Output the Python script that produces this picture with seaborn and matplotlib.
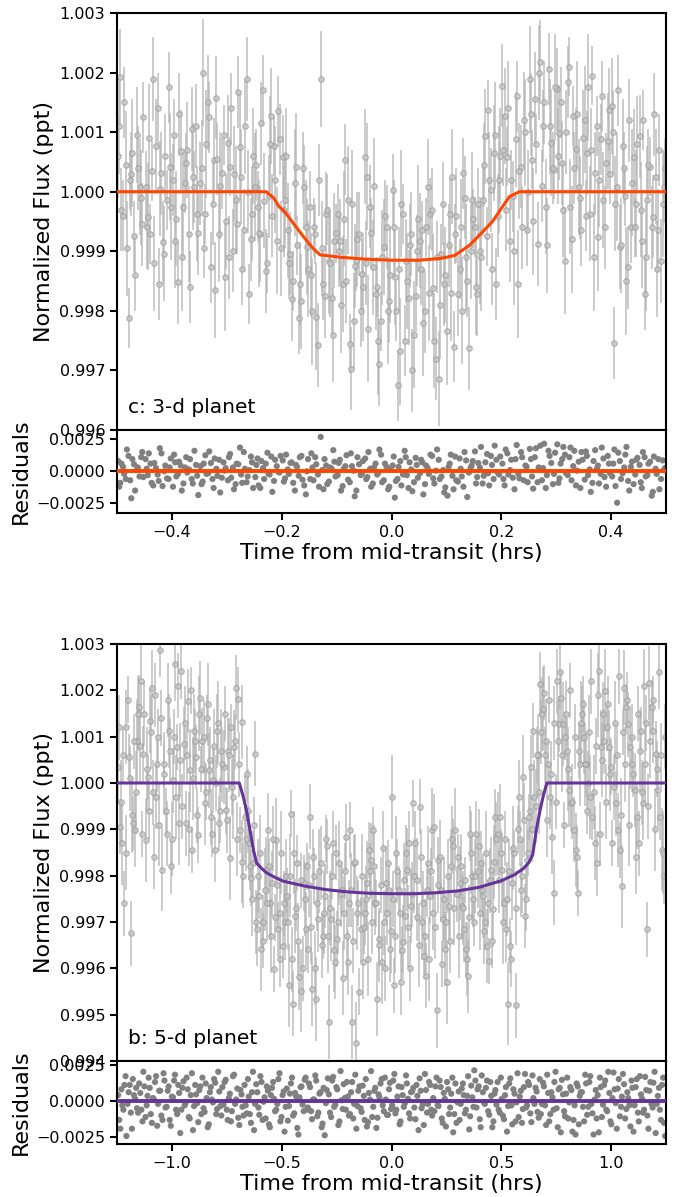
"""
Transit light curves (3-d and 5-d planets) with residual panels
"""

import matplotlib
matplotlib.use("Agg")
import matplotlib.pyplot as plt
from matplotlib.ticker import ScalarFormatter, MultipleLocator
import seaborn as sns
import numpy as np

# ---- panel c: 3-d planet -------------------------------------------------
# times in 1e-3 hrs, flux offsets / residuals in 1e-5, errors in 1e-4
time_c = [
    -498, -494, -489, -484, -479, -474, -469, -464, -459, -454,
    -448, -444, -439, -434, -429, -424, -419, -414, -409, -404,
    -398, -394, -389, -384, -379, -374, -369, -364, -359, -354,
    -348, -344, -339, -334, -329, -324, -319, -314, -309, -304,
    -298, -294, -289, -284, -279, -274, -269, -264, -259, -254,
    -248, -244, -239, -234, -229, -224, -219, -214, -209, -204,
    -198, -194, -189, -184, -179, -174, -169, -164, -159, -154,
    -148, -144, -139, -134, -129, -124, -119, -114, -109, -104,
    -98, -94, -89, -84, -79, -74, -69, -64, -59, -54,
    -48, -44, -39, -34, -29, -24, -19, -14, -9, -4,
    2, 6, 11, 16, 21, 26, 31, 36, 41, 46,
    52, 56, 61, 66, 71, 76, 81, 86, 91, 96,
    102, 106, 111, 116, 121, 126, 131, 136, 141, 146,
    152, 156, 161, 166, 171, 176, 181, 186, 191, 196,
    202, 206, 211, 216, 221, 226, 231, 236, 241, 246,
    252, 256, 261, 266, 271, 276, 281, 286, 291, 296,
    302, 306, 311, 316, 321, 326, 331, 336, 341, 346,
    352, 356, 361, 366, 371, 376, 381, 386, 391, 396,
    402, 406, 411, 416, 421, 426, 431, 436, 441, 446,
    452, 456, 461, 466, 471, 476, 481, 486, 491, 496,
]
flux_c = [
    60, 193, -40, 45, -212, 30, -75, 95, 8, -55,
    8, -42, -71, 189, 76, -155, 31, -104, -14, 42,
    20, -82, -152, 68, -25, 48, -71, 105, 8, -37,
    14, 200, -37, 150, -127, 54, 158, -71, 31, -144,
    82, 42, -99, -14, 167, 25, -65, 189, -172, -37,
    8, -25, -71, 170, -133, -8, 127, 76, -82, 88,
    59, -14, -65, -104, -150, 42, -212, -184, 8, -93,
    -25, -201, -71, -257, 189, -155, -37, -116, -178, -82,
    -37, -82, -155, 54, -14, -297, -217, -116, -71, -138,
    59, 25, -25, -127, -172, -251, -217, -93, -59, -184,
    3, -144, -325, -268, -37, -116, -178, -71, -240, -99,
    -82, -65, -201, 8, -37, -161, -280, -314, -104, -155,
    -234, -37, 25, -71, -172, -59, 31, -110, -263, -14,
    -59, -172, -99, -14, 93, 138, 3, 65, -155, 20,
    178, 127, 59, -82, -8, 88, -155, 42, 121, -65,
    189, 54, 155, -88, 218, 110, -25, 206, 82, 37,
    172, 99, 48, -116, 184, -25, 127, 71, 8, -65,
    121, 65, -37, 195, 31, -76, 88, -14, 48, 138,
    144, -254, 8, -93, 76, -8, -127, -59, 59, -20,
    93, -82, -172, -14, 42, -42, 25, -65, -116, 8,
]
resid_c = [
    80, -90, 35, -60, 120, -210, 55, 10, -40, 150,
    95, -30, 60, -110, 25, -75, 140, 0, -55, 30,
    -120, 70, -20, 45, -95, 110, 15, -60, 160, -35,
    40, -80, 125, -15, 65, -130, 20, 90, -50, 5,
    -70, 135, 30, -100, 55, -25, 150, -85, 10, 70,
    -45, 100, -130, 25, 60, -20, 115, -75, 40, -10,
    85, -55, 15, 65, -90, 50, -35, 120, -110, 0,
    -60, 30, 110, -25, 268, -140, 45, -80, 20, 75,
    -30, 90, -115, 40, -65, 140, 5, -150, 55, -20,
    100, -45, 20, -95, 60, -10, 130, -70, 35, -120,
    45, -205, -60, 80, -25, 110, -130, 15, -85, 50,
    -15, 70, -100, 25, 130, -55, 5, 90, -40, -165,
    -190, 60, -35, 115, -80, 20, -120, 85, -10, 45,
    155, -45, 30, -95, 70, -15, 120, -60, 90, -25,
    60, -110, 140, 10, -50, 95, -20, 150, -70, 35,
    175, -40, 110, -85, 200, 25, -130, 160, 65, -20,
    210, -55, 95, 130, -30, 185, 40, -110, 75, 150,
    -65, 120, 15, -90, 165, 45, -20, 100, -120, 60,
    -40, 170, -245, 80, -15, 130, -75, 35, -100, 90,
    50, -130, 110, -30, 75, -160, 20, 95, -60, 10,
]
err_c = "".join([
    "7869576887", "6957867859", "6877958768", "7958677869", "8579687758",
    "9686778596", "7887596878", "6957867968", "5786978576", "8978695877",
    "6869578796", "8578697857", "9685786978", "5796857869", "7857689786",
    "9587768695", "7879685786", "9785796857", "8697857689", "7869578776",
])
# second (interleaved) set of exposures for panel c
time_c2 = [
    -496, -492, -487, -482, -476, -472, -467, -462, -456, -452,
    -446, -442, -437, -432, -426, -422, -417, -412, -406, -402,
    -396, -392, -387, -382, -376, -372, -367, -362, -356, -352,
    -346, -342, -337, -332, -326, -322, -317, -312, -306, -302,
    -296, -292, -287, -282, -276, -272, -267, -262, -256, -252,
    -246, -242, -237, -232, -226, -222, -217, -212, -206, -202,
    -196, -192, -187, -182, -176, -172, -167, -162, -156, -152,
    -146, -142, -137, -132, -126, -122, -117, -112, -106, -102,
    -96, -92, -87, -82, -76, -72, -67, -62, -56, -52,
    -46, -42, -37, -32, -26, -22, -17, -12, -6, -2,
    4, 8, 13, 18, 24, 28, 33, 38, 44, 48,
    54, 58, 63, 68, 74, 78, 83, 88, 94, 98,
    104, 108, 113, 118, 124, 128, 133, 138, 144, 148,
    154, 158, 163, 168, 174, 178, 183, 188, 194, 198,
    204, 208, 213, 218, 224, 228, 233, 238, 244, 248,
    254, 258, 263, 268, 274, 278, 283, 288, 294, 298,
    304, 308, 313, 318, 324, 328, 333, 338, 344, 348,
    354, 358, 363, 368, 374, 378, 383, 388, 394, 398,
    404, 408, 413, 418, 424, 428, 433, 438, 444, 448,
    454, 458, 463, 468, 474, 478, 483, 488, 494, 498,
]
flux_c2 = [
    110, -30, 150, -95, 20, 65, -140, 40, -10, 125,
    -60, 90, 35, -120, 140, 5, -85, 60, 175, -25,
    95, -45, 130, -110, 15, 70, -160, 25, 110, -70,
    40, -95, 80, 125, -20, -165, 55, 10, 95, -50,
    -110, 140, 30, -55, 75, -130, 110, 0, -80, 60,
    45, -70, 115, -15, -120, 80, -40, 20, 135, -95,
    -30, 60, -120, -180, 15, -90, -155, 40, -60, -130,
    -140, -60, -210, 20, -95, -175, -30, -120, -240, -70,
    -100, -190, -45, -150, -255, -20, -125, -80, -200, -160,
    -120, -230, -70, 10, -160, -290, -110, -40, -200, -140,
    -60, -200, -130, -20, -250, -150, -90, -300, -175, -45,
    -130, -220, -60, -170, -30, -250, -110, -190, -20, -140,
    -90, -170, -260, -40, -130, -200, -10, -150, -100, -45,
    -160, -20, -110, 45, -75, 20, -130, 95, -40, 60,
    70, -30, 140, 20, -100, 160, 35, -60, 100, 0,
    130, -50, 80, 200, 10, 150, -90, 110, 40, 175,
    60, 150, -30, 100, 210, -80, 40, 130, -10, 90,
    -40, 175, 70, -110, 110, 20, 160, -60, 85, 30,
    100, -20, 170, -90, 40, -150, 120, 15, -60, 80,
    -30, 120, -110, 45, -60, 130, -130, 70, -20, 40,
]
resid_c2 = [
    -120, 60, -20, 170, -70, 95, -150, 30, 110, -45,
    20, 140, -90, 65, -25, 180, -115, 45, -60, 100,
    130, -40, 75, -150, 30, -10, 95, -95, 50, -185,
    -100, 60, -20, 155, -60, 100, -35, -165, 70, 25,
    110, -50, -140, 60, 185, -90, 20, -40, 115, -130,
    50, -110, 80, -60, 145, -25, -160, 90, -5, 120,
    -80, 130, -20, 70, -150, 35, 110, -65, -180, 95,
    140, -70, 55, -120, 10, 95, -100, 30, 165, -40,
    65, -150, 20, 125, -85, 40, -195, 110, -30, 80,
    -60, 150, -120, 30, -25, 170, -85, 60, -140, 15,
    115, -75, 35, -110, 160, -30, 70, -155, 105, -50,
    90, -180, 45, -20, 120, -95, 170, -60, 10, -125,
    35, 130, -140, -70, 100, -40, 150, -200, 25, 80,
    -95, 65, 190, -35, 135, -110, 50, 200, -15, 115,
    -60, 170, -25, 90, -140, 205, -55, 110, 45, -85,
    95, -135, 180, 30, -70, 215, -30, 120, -100, 145,
    -90, 60, 190, -15, 110, -70, 160, 5, -130, 90,
    155, -30, -160, 80, 20, -95, 185, -45, 120, -15,
    60, -115, 145, -60, 30, 190, -150, 75, -25, 105,
    -85, 150, -40, 60, -190, 115, -20, -140, 85, 25,
]
err_c2 = "".join([
    "8768596786", "7958687769", "6879586977", "8596786958", "7685968778",
    "6978587968", "8867957688", "7596876985", "6887597869", "7968578698",
    "8579687769", "6958786978", "7868597685", "8697586978", "6785968797",
    "7958678869", "8687596978", "6979586785", "7868697958", "8596778695",
])
model_t_c = [-0.5, -0.228, -0.214, -0.205, -0.196, -0.178, -0.16, -0.142, -0.13,
             -0.093, -0.05, 0.0, 0.05, 0.09, 0.115, 0.142, 0.16, 0.184, 0.2,
             0.215, 0.233, 0.5]
model_f_c = [1.0, 1.0, 0.99989, 0.99975, 0.99968, 0.99946, 0.99924, 0.99904, 0.99894,
             0.9989, 0.99887, 0.99885, 0.99885, 0.99888, 0.99893, 0.9991, 0.99927,
             0.9995, 0.99972, 0.99992, 1.0, 1.0]

# ---- panel b: 5-d planet -------------------------------------------------
time_b = [
    -1245, -1235, -1226, -1216, -1207, -1197, -1187, -1178, -1168, -1159,
    -1149, -1139, -1130, -1120, -1111, -1101, -1091, -1082, -1072, -1063,
    -1053, -1043, -1034, -1024, -1015, -1005, -995, -986, -976, -967,
    -957, -947, -938, -928, -919, -909, -899, -890, -880, -871,
    -861, -851, -842, -832, -823, -813, -803, -794, -784, -775,
    -765, -755, -746, -736, -727, -717, -707, -698, -688, -679,
    -669, -659, -650, -640, -631, -621, -611, -602, -592, -583,
    -573, -563, -554, -544, -535, -525, -515, -506, -496, -487,
    -477, -467, -458, -448, -439, -429, -419, -410, -400, -391,
    -381, -371, -362, -352, -343, -333, -323, -314, -304, -295,
    -285, -275, -266, -256, -247, -237, -227, -218, -208, -199,
    -189, -179, -170, -160, -151, -141, -131, -122, -112, -103,
    -93, -83, -74, -64, -55, -45, -35, -26, -16, -7,
    3, 13, 22, 32, 41, 51, 61, 70, 80, 89,
    99, 109, 118, 128, 137, 147, 157, 166, 176, 185,
    195, 205, 214, 224, 233, 243, 253, 262, 272, 281,
    291, 301, 310, 320, 329, 339, 349, 358, 368, 377,
    387, 397, 406, 416, 425, 435, 445, 454, 464, 473,
    483, 493, 502, 512, 521, 531, 541, 550, 560, 569,
    579, 589, 598, 608, 617, 627, 637, 646, 656, 665,
    675, 685, 694, 704, 713, 723, 733, 742, 752, 761,
    771, 781, 790, 800, 809, 819, 829, 838, 848, 857,
    867, 877, 886, 896, 905, 915, 925, 934, 944, 953,
    963, 973, 982, 992, 1001, 1011, 1021, 1030, 1040, 1049,
    1059, 1069, 1078, 1088, 1097, 1107, 1117, 1126, 1136, 1145,
    1155, 1165, 1174, 1184, 1193, 1203, 1213, 1222, 1232, 1241,
]
flux_b = [
    34, -94, -130, -260, 121, 56, -324, -87, -101, 91,
    163, 220, 63, -123, 13, 134, 206, -159, -30, 99,
    288, -187, 41, -109, 113, -180, 6, 256, 77, -87,
    241, 84, -87, 177, 27, -144, 113, 56, -112, 184,
    91, -44, 141, 27, -73, 6, -144, 113, -87, 70,
    34, -59, 70, -162, -9, 77, 206, 181, -101, 131,
    -73, 20, -130, -205, -173, 63, -316, -244, -359, -301,
    -187, -101, -259, -216, -401, -123, -316, -280, -351, -301,
    -244, -437, -66, -476, -287, -173, -419, -448, -216, -316,
    -359, -73, -444, -201, -466, -294, -173, -330, -244, -137,
    -516, -294, -130, -387, -337, -173, -230, -280, -116, -387,
    -101, -516, -173, -562, -259, -316, -387, -280, -216, -144,
    -166, -101, -259, -466, -337, -387, -301, -216, -173, -359,
    -30, -437, -151, -230, -430, -344, -287, -187, -130, -266,
    -44, -130, -209, -51, -301, -373, -416, -173, -244, -101,
    -94, -491, -166, -230, -294, -359, -430, -266, -180, -137,
    -101, -159, -216, -266, -316, -359, -416, -109, -201, -301,
    -109, -137, -173, -244, -301, -351, -384, -187, -273, -73,
    -109, -73, -187, -259, -316, -476, -351, -216, -151, -480,
    -30, -230, 13, -287, -166, -73, 34, 113, -50, 60,
    213, 149, 195, 91, 41, -30, -116, -237, 220, 127,
    184, 127, 99, 70, -16, -44, -101, -144, -237, 41,
    149, 99, 41, -1, -30, -73, -130, -173, 241, 77,
    149, 199, 120, 77, 34, -9, -44, -101, -144, -223,
    206, 163, 127, 77, 41, -16, -73, -130, 113, -44,
    41, -316, 216, 163, 113, 63, -16, -73, -144, -201,
]
resid_b = [
    40, -190, -30, 110, -240, 60, -80, 150, 15, -50,
    120, -60, 200, -110, 35, 90, -150, 10, 170, -20,
    70, -130, 140, -40, 100, -170, 25, 180, -90, 55,
    -60, 135, -15, 80, -120, 190, -35, 45, -145, 100,
    160, -75, 20, -160, 95, -10, 125, -55, 65, -100,
    -25, 145, -130, 50, -70, 180, 10, -115, 75, -40,
    110, -85, 30, -150, 200, -20, 60, -95, 130, -5,
    -120, 70, -180, 90, 15, -60, 150, -140, 40, -210,
    85, -35, 120, -100, 55, -185, 25, 100, -70, 160,
    -45, 95, -125, 10, 140, -80, 60, -155, -235, 75,
    45, -110, 165, -25, 80, -140, 5, 115, -60, 30,
    -90, 130, -20, -190, 70, -50, 105, -130, -175, 55,
    205, -40, 90, -115, 25, 150, -70, 10, -95, 125,
    -30, 185, -60, 100, -140, 40, -15, 120, -85, 60,
    90, -125, 35, 155, -50, -165, 75, -20, 110, -100,
    -70, 160, -35, 95, -150, 15, 130, -90, 50, -215,
    120, -10, -130, 85, 40, -60, 170, -105, 25, 210,
    -45, 100, -180, 60, -20, 140, -95, 35, -140, 75,
    130, -80, 15, -125, 95, -35, 155, -160, 50, -10,
    -110, 70, -55, 185, -30, 110, -145, 20, 90, -75,
    150, -20, 100, -165, 55, -90, 25, 130, -50, 80,
    -215, 45, -105, 160, -10, 75, -130, -230, 100, 35,
    60, -140, 120, -40, 170, -85, 10, -120, -215, 95,
    -25, 140, -70, 55, -160, 195, -15, 85, -105, 30,
    115, -55, 20, -175, 90, -30, 150, -140, 45, -80,
    165, -100, 70, -20, 125, -220, 35, -60, 110, -150,
]
err_b = "".join([
    "8697857689", "7869578776", "6957867859", "6877958768", "7958677869",
    "8579687758", "9686778596", "7887596878", "6957867968", "5786978576",
    "8978695877", "6869578796", "8578697857", "9685786978", "5796857869",
    "7857689786", "9587768695", "7879685786", "9785796857", "8697857689",
    "7869578776", "6957867859", "6877958768", "7958677869", "8579687758",
    "9686778596",
])
# second (interleaved) set of exposures for panel b
time_b2 = [
    -1240, -1230, -1221, -1211, -1202, -1192, -1182, -1173, -1163, -1154,
    -1144, -1134, -1125, -1115, -1106, -1096, -1086, -1077, -1067, -1058,
    -1048, -1038, -1029, -1019, -1010, -1000, -990, -981, -971, -962,
    -952, -942, -933, -923, -914, -904, -894, -885, -875, -866,
    -856, -846, -837, -827, -818, -808, -798, -789, -779, -770,
    -760, -750, -741, -731, -722, -712, -702, -693, -683, -674,
    -664, -654, -645, -635, -626, -616, -606, -597, -587, -578,
    -568, -558, -549, -539, -530, -520, -510, -501, -491, -482,
    -472, -462, -453, -443, -434, -424, -414, -405, -395, -386,
    -376, -366, -357, -347, -338, -328, -318, -309, -299, -290,
    -280, -270, -261, -251, -242, -232, -222, -213, -203, -194,
    -184, -174, -165, -155, -146, -136, -126, -117, -107, -98,
    -88, -78, -69, -59, -50, -40, -30, -21, -11, -2,
    8, 18, 27, 37, 46, 56, 66, 75, 85, 94,
    104, 114, 123, 133, 142, 152, 162, 171, 181, 190,
    200, 210, 219, 229, 238, 248, 258, 267, 277, 286,
    296, 306, 315, 325, 334, 344, 354, 363, 373, 382,
    392, 402, 411, 421, 430, 440, 450, 459, 469, 478,
    488, 498, 507, 517, 526, 536, 546, 555, 565, 574,
    584, 594, 603, 613, 622, 632, 642, 651, 661, 670,
    680, 690, 699, 709, 718, 728, 738, 747, 757, 766,
    776, 786, 795, 805, 814, 824, 834, 843, 853, 862,
    872, 882, 891, 901, 910, 920, 930, 939, 949, 958,
    968, 978, 987, 997, 1006, 1016, 1026, 1035, 1045, 1054,
    1064, 1074, 1083, 1093, 1102, 1112, 1122, 1131, 1141, 1150,
    1160, 1170, 1179, 1189, 1198, 1208, 1218, 1227, 1237, 1246,
]
flux_b2 = [
    120, -40, 60, -150, 180, 10, -70, 90, -20, 150,
    80, -110, 150, 30, -60, 110, -20, 190, 40, -90,
    140, 20, -60, 180, 70, -120, 100, -30, 210, 50,
    -50, 130, 60, -100, 200, 10, 90, -70, 150, 30,
    100, -20, 170, 50, -110, 80, 0, 130, -60, 40,
    150, -80, 60, 120, -30, 90, -120, 40, -170, -200,
    -120, -60, -180, -250, -90, -300, -200, -150, -340, -230,
    -260, -180, -330, -120, -290, -220, -380, -150, -260, -200,
    -300, -200, -380, -150, -270, -340, -210, -400, -250, -180,
    -220, -310, -160, -400, -260, -190, -350, -280, -120, -330,
    -270, -200, -360, -150, -300, -240, -420, -190, -330, -260,
    -230, -340, -170, -280, -450, -200, -310, -250, -380, -190,
    -300, -180, -260, -350, -220, -140, -400, -280, -230, -320,
    -250, -330, -190, -280, -360, -210, -150, -310, -400, -240,
    -200, -290, -350, -160, -260, -330, -230, -380, -190, -280,
    -310, -220, -160, -390, -250, -300, -200, -340, -120, -270,
    -240, -330, -180, -270, -210, -380, -290, -150, -250, -200,
    -190, -280, -230, -320, -150, -260, -210, -340, -170, -120,
    -210, -150, -300, -120, -250, -190, -380, -140, -270, -100,
    -120, -200, -80, -250, -150, -60, -100, -30, 60, -20,
    110, 160, 60, -80, 180, 20, 130, -40, 90, 240,
    60, -90, 150, 30, 200, -40, 100, -160, 70, 130,
    170, 40, -60, 110, 220, -20, 80, 190, -110, 50,
    90, -40, 170, 20, -130, 130, 60, 230, -70, 110,
    40, 180, -90, 100, 20, -160, 150, 70, -20, 210,
    130, -50, 90, 180, -100, 30, 240, 60, -150, 100,
]
resid_b2 = [
    -130, 80, -60, 170, -20, 110, -190, 40, 90, -80,
    55, -140, 100, -30, 160, -90, 20, 130, -170, 70,
    -100, 190, -45, 70, -130, 30, 140, -60, 110, -220,
    90, -30, 160, -110, 40, -200, 110, -15, 75, -90,
    -50, 120, -180, 60, 10, 150, -90, 200, -35, 95,
    130, -60, 20, -140, 170, -20, 85, -165, 45, -100,
    -30, 150, -90, 60, -200, 115, -45, 170, -130, 25,
    100, -160, 40, 130, -70, -20, 190, -110, 65, -40,
    -135, 50, 160, -85, 30, -230, 95, -25, 145, -60,
    120, -70, 10, 175, -105, 50, -180, 90, -15, 155,
    -80, 140, -40, 95, -165, 205, -55, 20, 130, -100,
    60, -120, 180, -35, 100, -75, 35, 150, -145, 10,
    -110, 70, -185, 45, 120, -30, 160, -95, 80, -55,
    140, -85, 30, -160, 95, -40, 175, 15, -120, 65,
    -45, 110, -200, 70, -25, 185, -80, 130, -60, 20,
    100, -30, 140, -120, 55, -175, 80, -45, 160, -90,
    -150, 65, -20, 120, -85, 35, -195, 105, -40, 140,
    80, -125, 175, -10, 90, -70, 130, -180, 50, -25,
    -60, 160, -100, 40, -210, 120, -30, 80, -140, 190,
    30, -150, 95, -45, 130, -85, 175, -20, 65, -115,
    -90, 125, -30, 180, -140, 60, -60, 200, -180, 90,
    145, -70, 50, -120, 95, -210, -30, 120, -160, 60,
    -40, 180, -95, 130, -20, -230, 75, 40, 160, -110,
    110, -60, 200, -140, 20, 80, -190, 150, -40, 185,
    -120, 60, -30, 140, -210, 95, -80, 170, 15, -60,
    75, -190, 130, -45, 200, -20, 90, -130, 160, -240,
]
err_b2 = "".join([
    "7968578698", "8579687769", "6958786978", "7868597685", "8697586978",
    "6785968797", "7958678869", "8687596978", "6979586785", "7868697958",
    "8596778695", "8768596786", "7958687769", "6879586977", "8596786958",
    "7685968778", "6978587968", "8867957688", "7596876985", "6887597869",
    "7968578698", "8579687769", "6958786978", "7868597685", "8697586978",
    "6785968797",
])
model_t_b = [-1.25, -0.693, -0.675, -0.66, -0.645, -0.629, -0.614, -0.59, -0.568,
             -0.53, -0.492, -0.4, -0.3, -0.2, -0.1, 0.0, 0.1, 0.2, 0.3, 0.4, 0.5,
             0.56, 0.6, 0.625, 0.643, 0.66, 0.676, 0.69, 0.707, 1.25]
model_f_b = [1.0, 1.0, 0.9997, 0.9994, 0.999, 0.99856, 0.99827, 0.99815, 0.99806,
             0.99796, 0.99788, 0.99778, 0.9977, 0.99765, 0.99762, 0.99761, 0.99761,
             0.99763, 0.99767, 0.99775, 0.99789, 0.99802, 0.99815, 0.99828, 0.99845,
             0.999, 0.9994, 0.9997, 1.0, 1.0]

sns.set_style("ticks")
plt.rcParams['font.family'] = ['DejaVu Sans']
plt.rcParams.update({'text.color': 'black', 'axes.labelcolor': 'black',
                     'xtick.color': 'black', 'ytick.color': 'black'})

W, H = 678, 1197
fig = plt.figure(figsize=(W / 100, H / 100), dpi=100)


def px_axes(left, top, right, bottom):
    return fig.add_axes([left / W, 1 - bottom / H, (right - left) / W, (bottom - top) / H])


def style(ax):
    for s in ax.spines.values():
        s.set_linewidth(1.5)
        s.set_color('black')
    ax.tick_params(labelsize=11.5, width=1.5, length=5, direction='out',
                   top=False, right=False, colors='black')
    ax.yaxis.set_major_formatter(ScalarFormatter(useOffset=False))


def panel(top, times, fluxes, resids, errs, mt, mf, color, label, xlim, ylim, rlim, xstep):
    t = np.concatenate([np.array(v) for v in times]) / 1000.0
    f = 1.0 + np.concatenate([np.array(v) for v in fluxes]) * 1e-5
    r = np.concatenate([np.array(v) for v in resids]) * 1e-5
    e = np.array([int(c) for c in "".join(errs)]) * 1e-4

    ax = px_axes(117, top, 666, top + 417)
    ax.errorbar(t, f, yerr=e, fmt='none', ecolor='#b4b4b4', elinewidth=1.3,
                alpha=0.75, zorder=1)
    sns.scatterplot(x=t, y=f, ax=ax, s=16, color='#c4c4c4', edgecolor='#999999',
                    linewidth=0.7, alpha=0.8, zorder=2)
    sns.lineplot(x=mt, y=mf, ax=ax, color=color, lw=2.2, zorder=3)
    ax.set_xlim(*xlim)
    ax.set_ylim(*ylim)
    ax.yaxis.set_major_locator(MultipleLocator(0.001))
    style(ax)
    ax.tick_params(axis='x', bottom=False, labelbottom=False)
    ax.set_ylabel("Normalized Flux (ppt)", fontsize=16)
    ax.text(0.02, 0.03, label, transform=ax.transAxes, fontsize=14.5,
            ha='left', va='bottom')

    rx = px_axes(117, top + 417, 666, top + 500)
    sns.scatterplot(x=t, y=r, ax=rx, s=20, color='#808080', edgecolor='none', zorder=2)
    rx.axhline(0, color=color, lw=2.8, zorder=3)
    rx.set_xlim(*xlim)
    rx.set_ylim(*rlim)
    rx.set_yticks([-0.0025, 0.0, 0.0025])
    rx.xaxis.set_major_locator(MultipleLocator(xstep))
    style(rx)
    rx.xaxis.set_major_formatter(ScalarFormatter(useOffset=False))
    rx.set_ylabel("Residuals", fontsize=16)
    rx.set_xlabel("Time from mid-transit (hrs)", fontsize=16, labelpad=2)


panel(13, [time_c, time_c2], [flux_c, flux_c2], [resid_c, resid_c2], [err_c, err_c2],
      model_t_c, model_f_c, '#ff4500', "c: 3-d planet",
      (-0.5, 0.5), (0.996, 1.003), (-0.00325, 0.00322), 0.2)
panel(644, [time_b, time_b2], [flux_b, flux_b2], [resid_b, resid_b2], [err_b, err_b2],
      model_t_b, model_f_b, '#663399', "b: 5-d planet",
      (-1.25, 1.25), (0.994, 1.003), (-0.00295, 0.00274), 0.5)

fig.savefig("out.png", dpi=100)
